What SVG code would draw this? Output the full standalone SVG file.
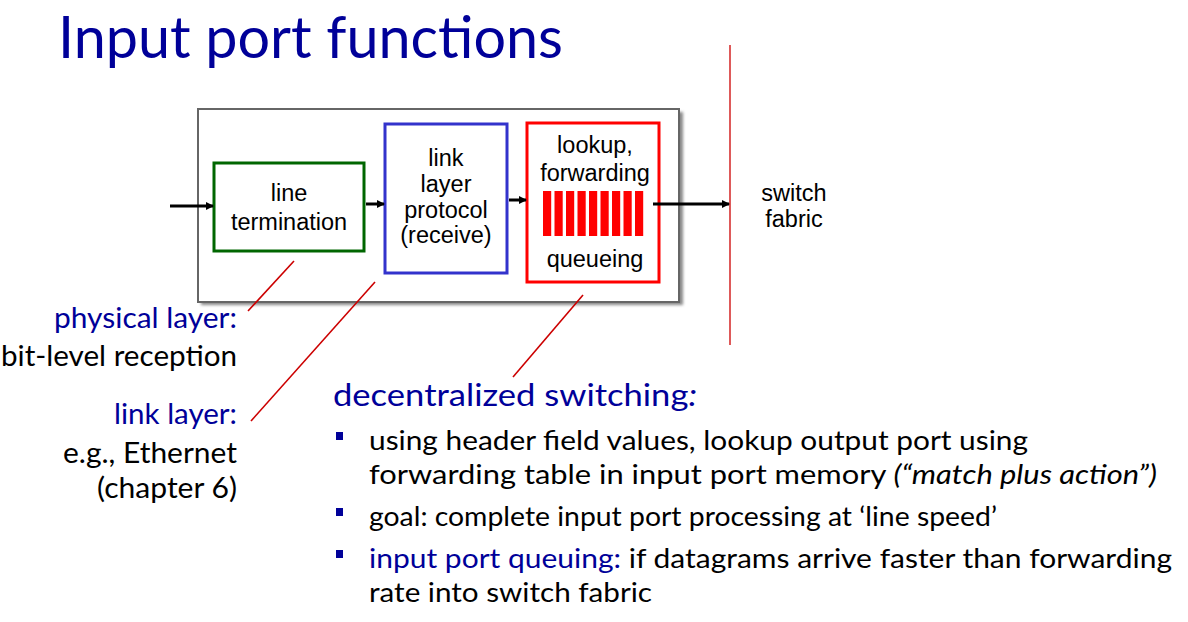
<svg xmlns="http://www.w3.org/2000/svg" width="1188" height="622" viewBox="0 0 1188 622">
  <defs>
    <marker id="ah" markerWidth="8" markerHeight="8" refX="7" refY="4" orient="auto" markerUnits="userSpaceOnUse">
      <path d="M0,0 L8,4 L0,8 Z" fill="#000"/>
    </marker>
    <filter id="sh" x="-5%" y="-5%" width="115%" height="120%">
      <feGaussianBlur stdDeviation="1.5"/>
    </filter>
  </defs>
  <style>
    .box { font-family: "Liberation Sans", Arial, sans-serif; font-size: 23.5px; fill: #000; text-anchor: middle; }
    .cal { font-family: Lato, "Open Sans", sans-serif; }
    .blue { fill: #000099; }
    .blk { fill: #000; }
    .conn { stroke: #000; stroke-width: 3; fill: none; }
    .call { stroke: #cc0000; stroke-width: 1.6; fill: none; }
    .bul { fill: #000099; }
  </style>
  <rect width="1188" height="622" fill="#fff"/>

  <text id="title" x="58" y="58" class="cal blue" font-size="59" textLength="505" lengthAdjust="spacingAndGlyphs">Input port functions</text>

  <g id="input-port">
    <rect x="201" y="112" width="482" height="193" fill="#888" filter="url(#sh)"/>
    <rect x="198" y="109" width="481" height="193" fill="#fff" stroke="#666" stroke-width="2"/>
  </g>

  <g id="line-termination">
    <rect x="214" y="163" width="150" height="88" fill="#fff" stroke="#006600" stroke-width="3"/>
    <text class="box" x="289" y="201">line</text>
    <text class="box" x="289" y="230">termination</text>
  </g>

  <g id="link-layer-protocol">
    <rect x="385" y="124" width="122" height="149" fill="#fff" stroke="#3333cc" stroke-width="3"/>
    <text class="box" x="446" y="166">link</text>
    <text class="box" x="446" y="192">layer</text>
    <text class="box" x="446" y="218">protocol</text>
    <text class="box" x="446" y="243">(receive)</text>
  </g>

  <g id="lookup-forwarding">
    <rect x="527" y="123" width="132" height="159" fill="#fff" stroke="#ff0000" stroke-width="3"/>
    <text class="box" x="595" y="153">lookup,</text>
    <text class="box" x="595" y="181">forwarding</text>
    <g fill="#ff0000">
      <rect x="543" y="191" width="8.2" height="45"/>
      <rect x="554.5" y="191" width="8.2" height="45"/>
      <rect x="566" y="191" width="8.2" height="45"/>
      <rect x="577.5" y="191" width="8.2" height="45"/>
      <rect x="589" y="191" width="8.2" height="45"/>
      <rect x="600.5" y="191" width="8.2" height="45"/>
      <rect x="612" y="191" width="8.2" height="45"/>
      <rect x="623.5" y="191" width="8.2" height="45"/>
      <rect x="635" y="191" width="8.2" height="45"/>
    </g>
    <text class="box" x="595" y="267">queueing</text>
  </g>

  <g id="switch-fabric">
    <line x1="730" y1="45" x2="730" y2="345" stroke="#cc0000" stroke-width="1.3"/>
    <text class="box" x="794" y="201">switch</text>
    <text class="box" x="794" y="227">fabric</text>
  </g>

  <g id="connectors">
    <line class="conn" x1="170" y1="206" x2="213" y2="206" marker-end="url(#ah)"/>
    <line class="conn" x1="366" y1="204" x2="384" y2="204" marker-end="url(#ah)"/>
    <line class="conn" x1="509" y1="200" x2="526" y2="200" marker-end="url(#ah)"/>
    <line class="conn" x1="653" y1="204" x2="729" y2="204" marker-end="url(#ah)"/>
    <line class="call" x1="294" y1="261" x2="248" y2="311"/>
    <line class="call" x1="375" y1="282" x2="251" y2="421"/>
    <line class="call" x1="583" y1="295" x2="513" y2="377"/>
  </g>

  <g id="physical-layer-label" class="cal" font-size="28.5" text-anchor="end">
    <text class="blue" x="237" y="328" textLength="183" lengthAdjust="spacingAndGlyphs">physical layer:</text>
    <text class="blk" x="237" y="366" textLength="236" lengthAdjust="spacingAndGlyphs">bit-level reception</text>
  </g>

  <g id="link-layer-label" class="cal" font-size="28.5" text-anchor="end">
    <text class="blue" x="237" y="424" textLength="123" lengthAdjust="spacingAndGlyphs">link layer:</text>
    <text class="blk" x="237" y="463" textLength="174" lengthAdjust="spacingAndGlyphs">e.g., Ethernet</text>
    <text class="blk" x="237" y="498" textLength="140" lengthAdjust="spacingAndGlyphs">(chapter 6)</text>
  </g>

  <g id="decentralized-switching" class="cal">
    <text class="blue" x="333" y="406" font-size="31.5" textLength="364" lengthAdjust="spacingAndGlyphs">decentralized switching<tspan font-style="italic">:</tspan></text>
    <rect class="bul" x="336" y="432" width="7" height="8"/>
    <text class="blk" x="369" y="450" font-size="27.5" textLength="659" lengthAdjust="spacingAndGlyphs">using header field values, lookup output port using</text>
    <text class="blk" x="369" y="484" font-size="27.5" textLength="788" lengthAdjust="spacingAndGlyphs">forwarding table in input port memory <tspan font-style="italic">(“match plus action”)</tspan></text>
    <rect class="bul" x="336" y="508" width="7" height="8"/>
    <text class="blk" x="369" y="526" font-size="27.5" textLength="628" lengthAdjust="spacingAndGlyphs">goal: complete input port processing at ‘line speed’</text>
    <rect class="bul" x="336" y="550" width="7" height="8"/>
    <text class="blk" x="369" y="568" font-size="27.5" textLength="803" lengthAdjust="spacingAndGlyphs"><tspan class="blue">input port queuing:</tspan> if datagrams arrive faster than forwarding</text>
    <text class="blk" x="369" y="602" font-size="27.5" textLength="283" lengthAdjust="spacingAndGlyphs">rate into switch fabric</text>
  </g>
</svg>
